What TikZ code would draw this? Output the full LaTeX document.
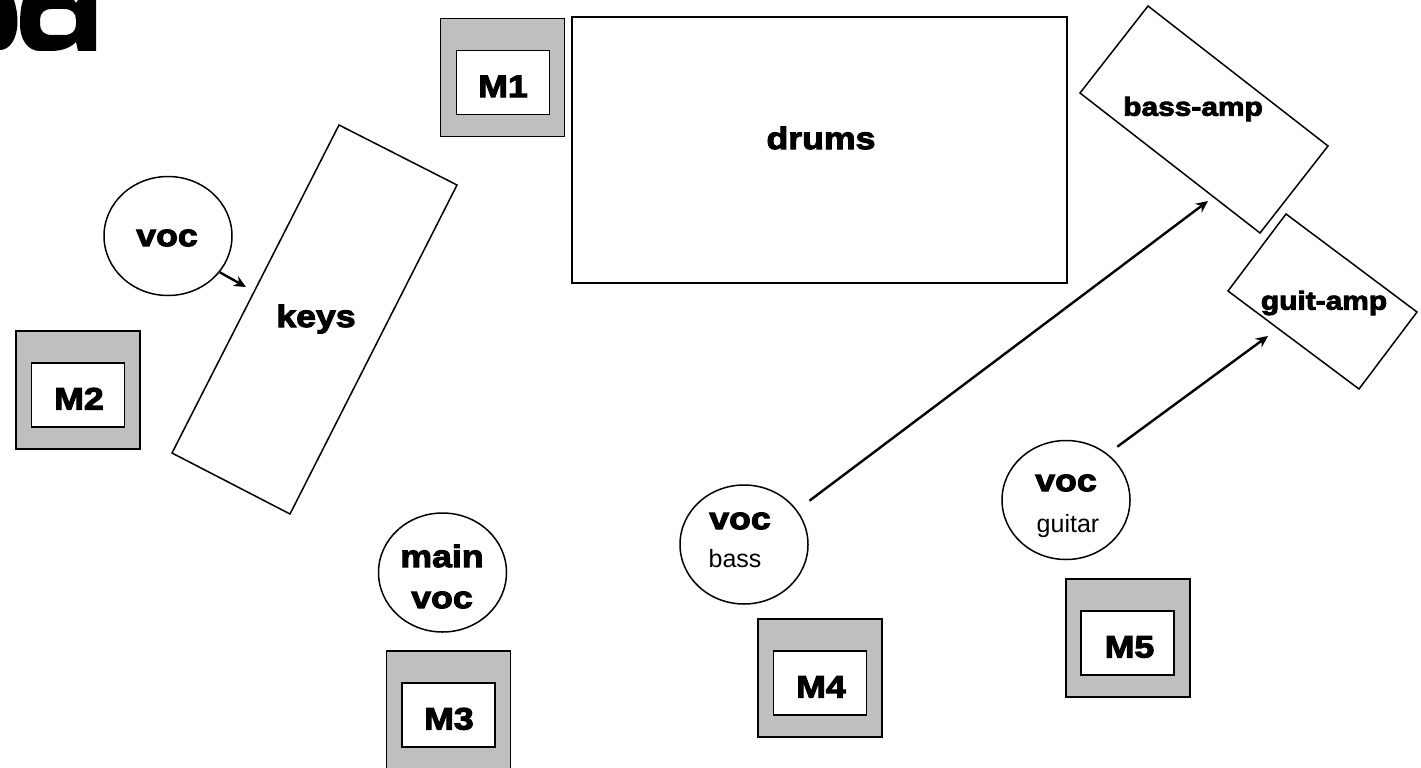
\documentclass[tikz,border=0pt]{standalone}
\usepackage{fontspec}
\usetikzlibrary{arrows.meta,shapes.geometric}
\setmainfont{Liberation Sans}
\newfontfamily\blk{Liberation Sans Bold}[FakeBold=3.4,FakeStretch=1.15]
\definecolor{gray75}{gray}{0.75}
\tikzset{
  line/.style={draw=black,line width=1.5pt},
  outerbox/.style={line,fill=gray75,minimum width=124pt,minimum height=118pt,inner sep=0pt},
  micbox/.style={line,fill=white,minimum width=93pt,minimum height=64pt,inner sep=0pt,text height=29pt,text depth=0pt,font=\blk\fontsize{31}{33}\selectfont},
  vocal/.style={line,ellipse,fill=white,minimum width=128pt,minimum height=119pt,inner sep=0pt},
  big/.style={inner sep=0pt,font=\blk\fontsize{31}{33}\selectfont,align=center},
  amp/.style={inner sep=0pt,font=\blk\fontsize{26}{28}\selectfont},
  small/.style={inner sep=0pt,font=\fontsize{25}{27}\selectfont},
  conn/.style={draw=black,line width=2.4pt,-{Stealth[length=12pt,width=11pt]}},
}
\begin{document}
\begin{tikzpicture}[x=1pt,y=-1pt]
\useasboundingbox (0,0) rectangle (1421,768);
% logo fragment, cut by the page edge
\fill[black] (0,0) -- (14,0) .. controls (16,6) and (17.5,14) .. (17.5,22) .. controls (17.5,38) and (10,50) .. (0,50) -- cycle;
\fill[black,even odd rule]
 (23,0) -- (74,0) -- (76,3) -- (78,0) -- (96,0) -- (96,51) -- (78,51) -- (76,42) .. controls (70,48) and (62,51) .. (50,51)
   -- (40,51) .. controls (28,51) and (20,40) .. (20,24) .. controls (20,14) and (21,6) .. (23,0) -- cycle
 (52,9) -- (64,9) .. controls (72,9) and (76,13) .. (76,20) -- (76,24) .. controls (76,31) and (72,35) .. (64,35) -- (52,35) .. controls (44,35) and (40,31) .. (40,24) -- (40,20) .. controls (40,13) and (44,9) .. (52,9) -- cycle;
% drums
\node[line,minimum width=495pt,minimum height=266pt,inner sep=0pt] (drums) at (819.5,150) {};
\node[big] (drumsT) at (821,138) {drums};
% keys
\draw[line] (339,125) -- (457,185) -- (290,514) -- (172,453) -- cycle;
\node[big] (keysT) at (316,319) {keys};
% amps
\draw[line] (1148,6) -- (1328,146) -- (1260,233) -- (1080,93) -- cycle;
\node[amp] (bassT) at (1193,109) {bass-amp};
\draw[line] (1286,214) -- (1417,312) -- (1359,389) -- (1228,291) -- cycle;
\node[amp] (guitT) at (1324,303) {guit-amp};
% mic stations
\node[outerbox] (m1o) at (502.5,77.5) {};
\node[micbox] (m1) at (503,82.5) {M1};
\node[outerbox] (m2o) at (78,390) {};
\node[micbox] (m2) at (78,395) {\hspace{2pt}M2};
\node[outerbox] (m3o) at (448.5,710) {};
\node[micbox] (m3) at (448.5,715) {\hspace{1pt}M3};
\node[outerbox] (m4o) at (820,678) {};
\node[micbox] (m4) at (820,683) {\hspace{2pt}M4};
\node[outerbox] (m5o) at (1128,638) {};
\node[micbox] (m5) at (1127.5,643) {\hspace{4pt}M5};
% vocals
\node[vocal] (v1) at (168,236) {};
\node[big] (v1T) at (167,238) {voc};
\node[vocal] (v2) at (442.5,572.5) {};
\node[big] (v2a) at (442,556) {main};
\node[big] (v2b) at (442,600) {voc};
\node[vocal] (v3) at (744,544.5) {};
\node[big] (v3a) at (740,521) {voc};
\node[small] (v3b) at (735,559) {bass};
\node[vocal] (v4) at (1066,500) {};
\node[big] (v4a) at (1066,483) {voc};
\node[small] (v4b) at (1068,526) {guitar};
% arrow ends
\coordinate (a1) at (246,287);
\coordinate (a3) at (1208,201);
\coordinate (a4) at (1268,336);
\draw[conn] (v1.-35) -- (a1);
\draw[conn,shorten <=15.5pt] (v3.33.9) -- (a3);
\draw[conn,shorten <=12pt] (v4.48.7) -- (a4);
\end{tikzpicture}
\end{document}
